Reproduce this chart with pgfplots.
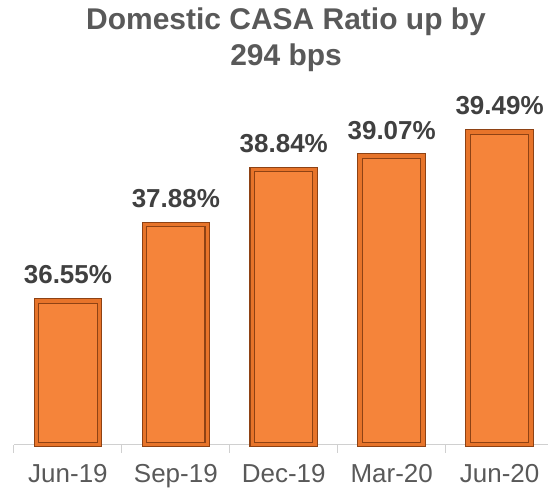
\documentclass[border=0pt]{standalone}
\usepackage{fontspec}
\setmainfont{Liberation Sans}
\usepackage{pgfplots}
\pgfplotsset{compat=1.18}
\usetikzlibrary{calc}
\definecolor{barfill}{HTML}{F5843A}
\definecolor{baredge}{HTML}{8E4214}
\definecolor{barband}{HTML}{E7742A}
\definecolor{titlegray}{HTML}{595959}
\definecolor{labgray}{HTML}{404040}
\definecolor{axisgray}{HTML}{D0D0D0}
\begin{document}
\begin{tikzpicture}
\begin{axis}[
  scale only axis,
  width=534pt, height=345pt,
  xmin=-0.5, xmax=4.444,
  ymin=34.05, ymax=40.05,
  axis y line=none,
  axis x line*=bottom,
  x axis line style={draw=axisgray, line width=1pt, -},
  xtick={0,1,2,3,4},
  xticklabels={Jun-19,Sep-19,Dec-19,Mar-20,Jun-20},
  major tick length=0pt,
  minor xtick={-0.5,0.5,1.5,2.5,3.5},
  minor tick length=8pt,
  tick align=outside,
  minor tick style={draw=axisgray, line width=1pt},
  xticklabel style={font=\fontsize{26}{30}\selectfont, text=titlegray, yshift=-16pt},
  clip=false,
  /pgf/number format/assume math mode=true,
  title={Domestic CASA Ratio up by\\294 bps},
  title style={font=\fontsize{30}{36}\selectfont\bfseries, text=titlegray, align=center, anchor=south, at={(0.51,1)}, yshift=19pt},
]
\addplot[ybar, bar width=63pt, fill=barfill, draw=baredge, line width=1.1pt, double=barband, double distance=3.5pt,
  nodes near coords={\pgfmathprintnumber[fixed,fixed zerofill,precision=2]{\pgfplotspointmeta}\%},
  nodes near coords style={font=\fontsize{26}{30}\selectfont\bfseries, text=labgray, anchor=south, yshift=13pt}]
  coordinates {(0,36.55) (1,37.88) (2,38.84) (3,39.07) (4,39.49)};
\coordinate (o) at (rel axis cs:0,0);
\end{axis}
\path[use as bounding box] ($(o)+(-14pt,-49pt)$) rectangle ++(548pt,494pt);
\end{tikzpicture}
\end{document}
